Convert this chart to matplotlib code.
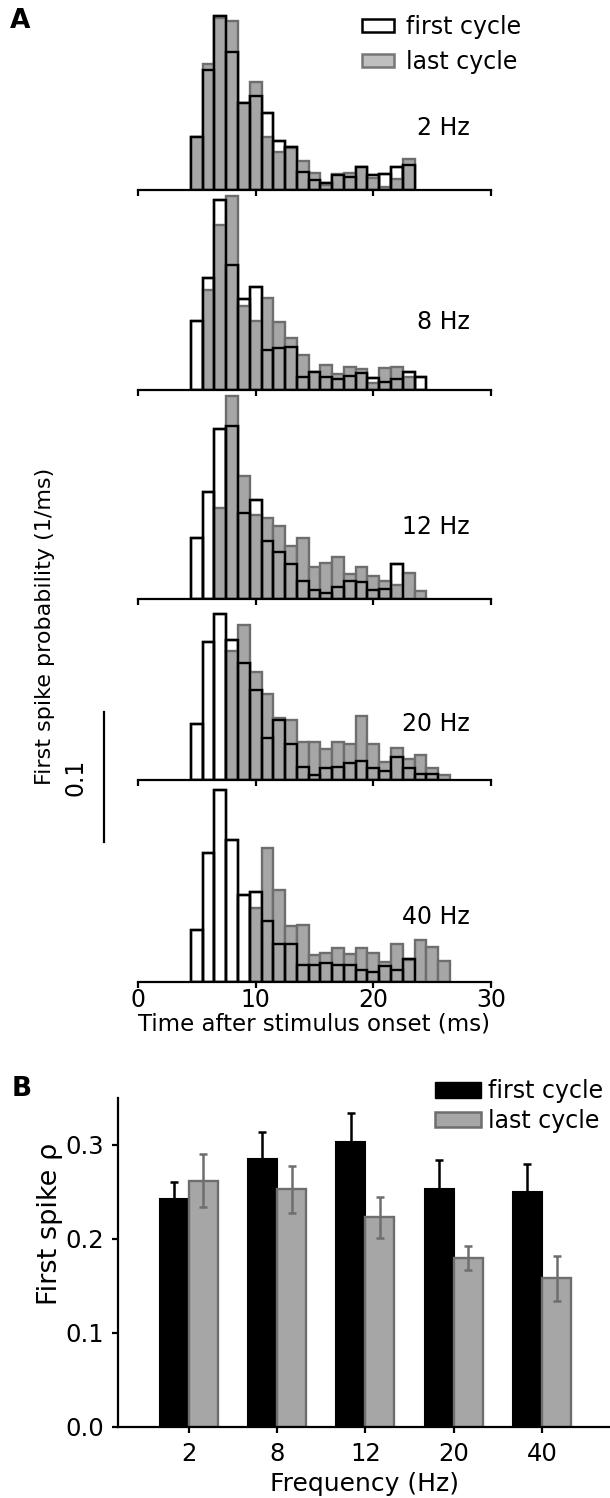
import matplotlib
matplotlib.use("Agg")
import matplotlib.pyplot as plt
import numpy as np
from matplotlib.patches import Patch

# bin centres (ms), 1 ms bins
bins = np.arange(5, 27)

# first spike probability (1/ms), first and last cycle, per stimulus frequency
first_2 = [0.041, 0.092, 0.134, 0.106, 0.067, 0.072, 0.059, 0.038, 0.033, 0.014, 0.008,
           0.0056, 0.0115, 0.010, 0.018, 0.0115, 0.012, 0.018, 0.019, 0, 0, 0]
last_2 = [0.041, 0.097, 0.132, 0.130, 0.067, 0.083, 0.041, 0.029, 0.032, 0.022, 0.013,
          0.004, 0.012, 0.013, 0.018, 0.009, 0.0026, 0.0085, 0.024, 0, 0, 0]
first_8 = [0.053, 0.086, 0.146, 0.096, 0.070, 0.079, 0.031, 0.032, 0.033, 0.010, 0.0136,
           0.0097, 0.0085, 0.011, 0.0128, 0.0095, 0.006, 0.0085, 0.014, 0.010, 0, 0]
last_8 = [0, 0.077, 0.127, 0.149, 0.065, 0.053, 0.071, 0.052, 0.040, 0.027, 0.014,
          0.019, 0.012, 0.0174, 0.016, 0.0056, 0.0167, 0.018, 0.010, 0, 0, 0]
first_12 = [0.047, 0.082, 0.131, 0.133, 0.066, 0.076, 0.045, 0.036, 0.027, 0.0136, 0.007,
            0.0046, 0.009, 0.014, 0.0128, 0.007, 0.008, 0.027, 0, 0, 0, 0]
last_12 = [0, 0, 0.070, 0.156, 0.095, 0.065, 0.062, 0.056, 0.041, 0.047, 0.025,
           0.028, 0.032, 0.019, 0.025, 0.018, 0.0136, 0.011, 0.020, 0.0064, 0, 0]
first_20 = [0.043, 0.106, 0.128, 0.108, 0.090, 0.069, 0.032, 0.046, 0.028, 0.010, 0.004,
            0.009, 0.010, 0.0128, 0.015, 0.009, 0.007, 0.018, 0.009, 0.005, 0.005, 0]
last_20 = [0, 0, 0, 0.099, 0.119, 0.083, 0.066, 0.048, 0.046, 0.029, 0.029,
           0.024, 0.029, 0.028, 0.049, 0.028, 0.014, 0.025, 0.016, 0.019, 0.009, 0.004]
first_40 = [0.040, 0.099, 0.148, 0.109, 0.067, 0.069, 0.047, 0.029, 0.029, 0.0128, 0.0128,
            0.015, 0.013, 0.013, 0.0095, 0.008, 0.012, 0.0095, 0.018, 0, 0, 0]
last_40 = [0, 0, 0, 0, 0, 0.057, 0.103, 0.0705, 0.043, 0.044, 0.0205,
           0.0223, 0.026, 0.0213, 0.026, 0.0226, 0.0154, 0.0295, 0.017, 0.0326, 0.0269, 0.0162]

hist_labels = ["2 Hz", "8 Hz", "12 Hz", "20 Hz", "40 Hz"]
hist_first = [first_2, first_8, first_12, first_20, first_40]
hist_last = [last_2, last_8, last_12, last_20, last_40]

# panel B
freqs = ["2", "8", "12", "20", "40"]
rho_first = [0.243, 0.285, 0.303, 0.253, 0.250]
rho_first_err = [0.018, 0.029, 0.031, 0.031, 0.030]
rho_last = [0.262, 0.253, 0.223, 0.180, 0.158]
rho_last_err = [0.028, 0.025, 0.022, 0.013, 0.024]

W, H = 610, 1498
fig = plt.figure(figsize=(W / 100, H / 100), dpi=100)
plt.rcParams["font.family"] = ["DejaVu Sans"]

FS = 17
GRAY = "#a6a6a6"
GRAY_EDGE = "#6e6e6e"


def fx(px):
    return px / W


def fy(py):
    return 1 - py / H


# ---- panel A ----
baselines = [190, 390, 599, 780, 982]
label_y = [0.048, 0.052, 0.055, 0.043, 0.050]
px_per_unit = 1300.0
ax_h = 215
axes_a = []
for i, b in enumerate(baselines):
    ax = fig.add_axes([fx(138), fy(b), 353 / W, ax_h / H])
    ax.set_facecolor("none")
    f = np.array(hist_first[i], dtype=float)
    l = np.array(hist_last[i], dtype=float)
    mf = f > 0
    ml = l > 0
    ax.bar(bins[mf], f[mf], width=1, color="white", edgecolor="black", lw=1.7, zorder=1)
    ax.bar(bins[ml], l[ml], width=1, color=GRAY, edgecolor=GRAY_EDGE, lw=1.7, zorder=2)
    ax.bar(bins[mf], f[mf], width=1, fill=False, edgecolor="black", lw=1.7, zorder=3)
    ax.set_xlim(0, 30)
    ax.set_ylim(0, ax_h / px_per_unit)
    for s in ["top", "right", "left"]:
        ax.spines[s].set_visible(False)
    ax.spines["bottom"].set_linewidth(1.6)
    ax.set_yticks([])
    ax.set_xticks([0, 10, 20, 30])
    ax.tick_params(axis="x", direction="out", length=4, width=1.6, labelsize=17, pad=0)
    if i < len(baselines) - 1:
        ax.tick_params(axis="x", labelbottom=False)
    ax.text(28.2, label_y[i], hist_labels[i], ha="right", va="center", fontsize=FS)
    axes_a.append(ax)

axes_a[-1].set_xlabel("Time after stimulus onset (ms)", fontsize=16.5, labelpad=1)

# scale bar (0.1 /ms) drawn in the 20 Hz panel's data units
sb = axes_a[3]
sb.plot([-2.9, -2.9], [-0.0477, -0.0477 + 0.1], color="black", lw=1.6, clip_on=False)
sb.text(-5.35, 0.002, "0.1", rotation=90, ha="center", va="center", fontsize=FS)

fig.text(fx(45), fy(626), "First spike probability (1/ms)", rotation=90,
         ha="center", va="center", fontsize=16)

axes_a[0].legend(
    handles=[Patch(facecolor="white", edgecolor="black", lw=1.8, label="first cycle"),
             Patch(facecolor="#bfbfbf", edgecolor="#777777", lw=1.8, label="last cycle")],
    loc="upper left", bbox_to_anchor=(fx(362), fy(15)), bbox_transform=fig.transFigure,
    frameon=False, fontsize=FS, handlelength=1.35, handleheight=0.45,
    handletextpad=0.5, borderpad=0, borderaxespad=0, labelspacing=0.45)

fig.text(fx(10), fy(21), "A", fontsize=19, fontweight="bold", ha="left", va="center")

# ---- panel B ----
axb = fig.add_axes([fx(118), fy(1427), (W - 118) / W, (1427 - 1098) / H])
x = np.arange(len(freqs))
bw = 0.33
axb.bar(x - bw / 2, rho_first, width=bw, color="black", edgecolor="black", lw=1.5, zorder=2)
axb.errorbar(x - bw / 2, rho_first, yerr=[np.zeros(len(freqs)), rho_first_err], fmt="none",
             ecolor="black", elinewidth=1.8, capsize=3, capthick=1.8, zorder=3)
axb.bar(x + bw / 2, rho_last, width=bw, color=GRAY, edgecolor=GRAY_EDGE, lw=1.7, zorder=2)
axb.errorbar(x + bw / 2, rho_last, yerr=rho_last_err, fmt="none",
             ecolor="#6e6e6e", elinewidth=1.8, capsize=3, capthick=1.8, zorder=3)
axb.set_xlim(-0.80, 4.77)
axb.set_ylim(0, 0.35)
axb.set_yticks([0.0, 0.1, 0.2, 0.3])
axb.set_yticklabels(["0.0", "0.1", "0.2", "0.3"])
axb.set_xticks(x)
axb.set_xticklabels(freqs)
for s in ["top", "right"]:
    axb.spines[s].set_visible(False)
for s in ["left", "bottom"]:
    axb.spines[s].set_linewidth(1.6)
axb.tick_params(direction="out", length=4, width=1.6, labelsize=17.5, pad=6)
axb.tick_params(axis="x", pad=7)
axb.set_xlabel("Frequency (Hz)", fontsize=FS + 1, labelpad=4)
fig.text(fx(50), fy(1224), "First spike \u03c1", rotation=90,
         ha="center", va="center", fontsize=19.5)
axb.legend(
    handles=[Patch(facecolor="black", edgecolor="black", label="first cycle"),
             Patch(facecolor=GRAY, edgecolor=GRAY_EDGE, lw=1.8, label="last cycle")],
    loc="upper left", bbox_to_anchor=(fx(435), fy(1079)), bbox_transform=fig.transFigure,
    frameon=False, fontsize=FS, handlelength=1.95, handleheight=0.65,
    handletextpad=0.3, borderpad=0, borderaxespad=0, labelspacing=0.25)

fig.text(fx(12), fy(1089), "B", fontsize=19, fontweight="bold", ha="left", va="center")

fig.savefig("out.png", dpi=100)
